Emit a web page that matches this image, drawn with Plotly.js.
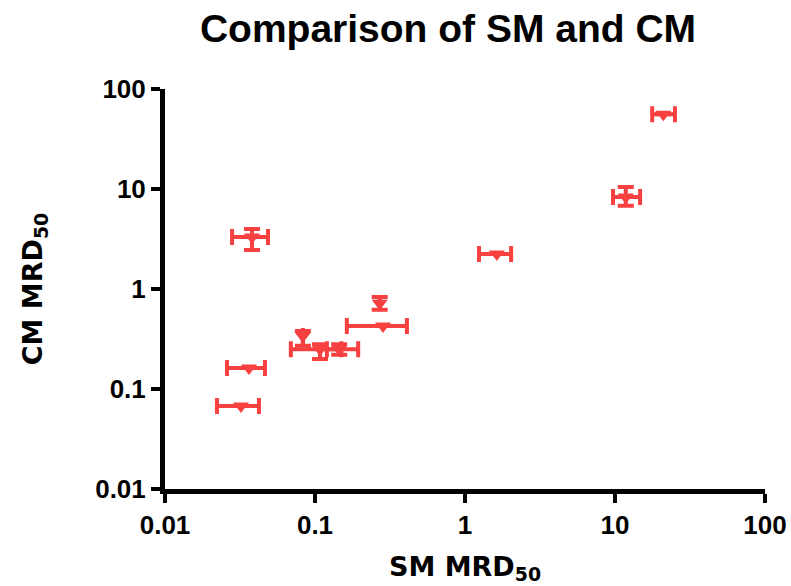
<!DOCTYPE html>
<html>
<head>
<meta charset="utf-8">
<script src="https://cdn.plot.ly/plotly-3.0.1.min.js"></script>
<style>html,body{margin:0;padding:0;background:#fff;}#chart{width:791px;height:586px;}</style>
</head>
<body>
<div id="chart"></div>
<script>
// SM MRD50 (x) with low/high error range, CM MRD50 (y) with low/high error range
var smValue = [21, 11.8, 0.038, 0.27, 0.284, 0.083, 0.108, 0.145, 0.0363, 0.0321, 1.63];
var smLow   = [17.7, 9.7, 0.028, null, 0.163, null, 0.069, 0.12, 0.0259, 0.0222, 1.24];
var smHigh  = [25.1, 14.7, 0.0486, null, 0.41, null, 0.15, 0.194, 0.0464, 0.0423, 2.03];
var cmValue = [56, 8.3, 3.31, 0.72, 0.427, 0.339, 0.25, 0.25, 0.162, 0.0676, 2.24];
var cmLow   = [null, 6.8, 2.45, 0.62, null, 0.27, 0.2, 0.22, null, null, null];
var cmHigh  = [null, 10.5, 3.98, 0.83, null, 0.38, 0.28, 0.28, null, null, null];
var tickVals = [0.01, 0.1, 1, 10, 100];
var tickText = ['0.01', '0.1', '1', '10', '100'];

function diff(a, b) {
  return a.map(function (v, i) {
    if (v === null || b[i] === null) return null;
    return v - b[i];
  });
}

var red = 'rgb(247,64,64)';
var trace = {
  type: 'scatter',
  mode: 'markers',
  x: smValue,
  y: cmValue,
  marker: {symbol: 'triangle-down', size: 14, color: red},
  error_x: {type: 'data', symmetric: false,
    array: diff(smHigh, smValue), arrayminus: diff(smValue, smLow),
    color: red, thickness: 4, width: 8},
  error_y: {type: 'data', symmetric: false,
    array: diff(cmHigh, cmValue), arrayminus: diff(cmValue, cmLow),
    color: red, thickness: 4, width: 8},
  showlegend: false,
  cliponaxis: false
};

var arial = 'Liberation Sans, Arial, sans-serif';
var dejavu = 'DejaVu Sans, Verdana, sans-serif';
var layout = {
  width: 791, height: 586,
  margin: {l: 165, r: 26, t: 89, b: 97},
  paper_bgcolor: '#fff', plot_bgcolor: '#fff',
  title: {text: '<b>Comparison of SM and CM</b>', x: 448/791, xanchor: 'center', y: 1 - 28/586, yanchor: 'middle',
    font: {family: arial, size: 39, color: '#000'}},
  xaxis: {type: 'log', range: [-2, 2], tickvals: tickVals, ticktext: tickText,
    showgrid: false, zeroline: false, showline: true, linewidth: 5, linecolor: '#000',
    ticks: 'outside', ticklen: 9, tickwidth: 4, tickcolor: '#000',
    tickfont: {family: arial, size: 26, color: '#000', weight: 'bold'},
    title: {text: '<b>SM MRD<sub>50</sub></b>', standoff: 19, font: {family: dejavu, size: 27, color: '#000'}}},
  yaxis: {type: 'log', range: [-2, 2], tickvals: tickVals, ticktext: tickText,
    showgrid: false, zeroline: false, showline: true, linewidth: 5, linecolor: '#000',
    ticks: 'outside', ticklen: 9, tickwidth: 4, tickcolor: '#000',
    tickfont: {family: arial, size: 26, color: '#000', weight: 'bold'},
    title: {text: '<b>CM MRD<sub>50</sub></b>', standoff: 46, font: {family: dejavu, size: 27, color: '#000'}}}
};

Plotly.newPlot('chart', [trace], layout, {displayModeBar: false, staticPlot: true});
</script>
</body>
</html>
